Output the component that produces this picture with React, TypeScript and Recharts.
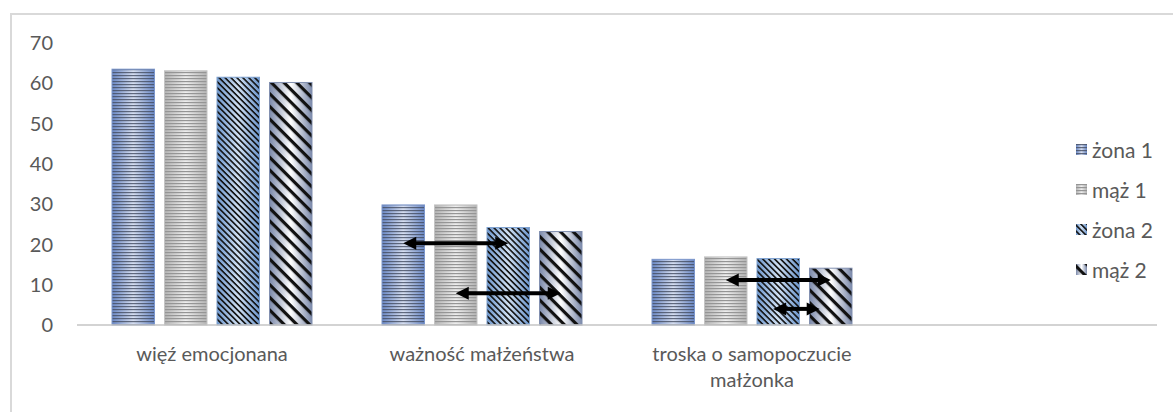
import React from 'react';
import { BarChart, Bar, XAxis, YAxis, Legend } from 'recharts';

const categories = ['więź emocjonana', 'ważność małżeństwa', 'troska o samopoczucie małżonka', ''];
const zona1 = [63.5, 29.8, 16.3, null];
const maz1 = [63.1, 29.8, 16.9, null];
const zona2 = [61.5, 24.2, 16.5, null];
const maz2 = [60.2, 23.2, 14.1, null];
const yTicks = [0, 10, 20, 30, 40, 50, 60, 70];

const seriesKeys = ['zona1', 'maz1', 'zona2', 'maz2'];
const seriesNames = ['żona 1', 'mąż 1', 'żona 2', 'mąż 2'];

// arrows: category index, from series index, to series index, value level, fractional position inside bars
const arrowCats = [1, 1, 2, 2];
const arrowFrom = [0, 1, 1, 2];
const arrowTo = [2, 3, 3, 3];
const arrowValue = [20.3, 7.9, 11.2, 4.0];
const arrowFromFrac = [0.5, 0.5, 0.5, 0.38];
const arrowToFrac = [0.5, 0.5, 0.5, 0.24];

const data = categories.map((c, i) => ({
  name: c,
  zona1: zona1[i],
  maz1: maz1[i],
  zona2: zona2[i],
  maz2: maz2[i],
}));

const BAR_SIZE = 42.5;
const BAR_GAP = 10;
const TEXT = '#595959';
const FONT = 'Lato, "Open Sans", sans-serif';
const WRAP_CHARS = 22;

const wrapLabel = (s: string) => {
  const words = s.split(' ');
  const lines: string[] = [];
  let cur = '';
  words.forEach((w) => {
    const next = cur ? cur + ' ' + w : w;
    if (next.length > WRAP_CHARS && cur) {
      lines.push(cur);
      cur = w;
    } else cur = next;
  });
  if (cur) lines.push(cur);
  return lines;
};

const Defs = () => (
  <svg width={0} height={0} style={{ position: 'absolute' }}>
    <defs>
      <linearGradient id="g0" x1="0" x2="1" y1="0" y2="0">
        <stop offset="0" stopColor="#6a88c6" />
        <stop offset="0.5" stopColor="#d6def0" />
        <stop offset="1" stopColor="#6a88c6" />
      </linearGradient>
      <linearGradient id="g1" x1="0" x2="1" y1="0" y2="0">
        <stop offset="0" stopColor="#b4b4b4" />
        <stop offset="0.5" stopColor="#eeeeee" />
        <stop offset="1" stopColor="#b4b4b4" />
      </linearGradient>
      <linearGradient id="g2" x1="0" x2="1" y1="0" y2="0">
        <stop offset="0" stopColor="#6d96cc" />
        <stop offset="0.5" stopColor="#d0e0f2" />
        <stop offset="1" stopColor="#6d96cc" />
      </linearGradient>
      <linearGradient id="g3" x1="0" x2="1" y1="0" y2="0">
        <stop offset="0" stopColor="#7b89aa" />
        <stop offset="0.5" stopColor="#ffffff" />
        <stop offset="1" stopColor="#7b89aa" />
      </linearGradient>
      <pattern id="p0" width={4} height={3} patternUnits="userSpaceOnUse">
        <rect x={0} y={0} width={4} height={1.2} fill="#444c60" fillOpacity={0.8} />
      </pattern>
      <pattern id="p1" width={4} height={3} patternUnits="userSpaceOnUse">
        <rect x={0} y={0} width={4} height={1.2} fill="#959595" />
      </pattern>
      <pattern id="p2" width={4} height={4.2} patternUnits="userSpaceOnUse" patternTransform="rotate(45)">
        <rect x={0} y={0} width={4} height={1.6} fill="#111111" />
      </pattern>
      <pattern id="p3" width={4} height={9} patternUnits="userSpaceOnUse" patternTransform="rotate(45)">
        <rect x={0} y={0} width={4} height={3.2} fill="#111111" />
      </pattern>
    </defs>
  </svg>
);

const ArrowMark = ({ x1, x2, y }: { x1: number; x2: number; y: number }) => {
  const hl = 13;
  const hw = 6.5;
  return (
    <g>
      <line x1={x1 + hl - 1} x2={x2 - hl + 1} y1={y} y2={y} stroke="#000" strokeWidth={4} />
      <polygon points={`${x1},${y} ${x1 + hl},${y - hw} ${x1 + hl},${y + hw}`} fill="#000" />
      <polygon points={`${x2},${y} ${x2 - hl},${y - hw} ${x2 - hl},${y + hw}`} fill="#000" />
    </g>
  );
};

const makeShape = (si: number) => (props: any) => {
  const { x, y, width, height, index, payload } = props;
  if (!height || height <= 0 || width == null) return <g />;
  const arrowsHere: React.ReactNode[] = [];
  if (si === 3) {
    const val = payload[seriesKeys[3]];
    const ppu = height / val;
    const base = y + height;
    const barX = (k: number) => x - (3 - k) * (width + BAR_GAP);
    arrowCats.forEach((c, ai) => {
      if (c !== index) return;
      const x1 = barX(arrowFrom[ai]) + width * arrowFromFrac[ai];
      const x2 = barX(arrowTo[ai]) + width * arrowToFrac[ai];
      arrowsHere.push(<ArrowMark key={ai} x1={x1} x2={x2} y={base - arrowValue[ai] * ppu} />);
    });
  }
  const edge = ['#7b96cc', '#c4c4c4', '#7fa2d0', '#8290b0'][si];
  return (
    <g>
      <rect x={x} y={y} width={width} height={height} fill={`url(#g${si})`} />
      <rect x={x} y={y} width={width} height={height} fill={`url(#p${si})`} stroke={edge} strokeWidth={1} />
      {arrowsHere}
    </g>
  );
};

const shapes = seriesKeys.map((_, i) => makeShape(i));

const XTick = (props: any) => {
  const { x, y, payload } = props;
  if (!payload.value) return <g />;
  const lines = wrapLabel(String(payload.value));
  return (
    <text x={x} y={y + 36} textAnchor="middle" fill={TEXT} fontSize={20} fontFamily={FONT}>
      {lines.map((l, i) => (
        <tspan key={i} x={x} dy={i === 0 ? 0 : 26}>
          {l}
        </tspan>
      ))}
    </text>
  );
};

const LegendContent = () => (
  <div style={{ fontFamily: FONT, fontSize: 21, color: TEXT, lineHeight: 1 }}>
    {seriesNames.map((n, i) => (
      <div key={n} style={{ height: 40, display: 'flex', alignItems: 'center' }}>
        <svg width={11} height={11} style={{ marginRight: 5 }}>
          <rect x={0} y={0} width={11} height={11} fill={`url(#g${i})`} />
          <rect x={0} y={0} width={11} height={11} fill={`url(#p${i})`} />
        </svg>
        <span>{n}</span>
      </div>
    ))}
  </div>
);

export default function App() {
  return (
    <div style={{ position: 'absolute', left: 0, top: 0, width: 1173, height: 412, background: '#fff', overflow: 'hidden' }}>
      <Defs />
      <div
        style={{
          position: 'absolute',
          left: 10,
          top: 13,
          width: 1200,
          height: 440,
          border: '2px solid #d9d9d9',
        }}
      />
      <div style={{ position: 'absolute', left: 0, top: 0 }}>
        <BarChart
          width={1173}
          height={412}
          data={data}
          margin={{ top: 43, right: 16, bottom: 0, left: 17 }}
          barSize={BAR_SIZE}
          barGap={BAR_GAP}
        >
          <XAxis
            dataKey="name"
            height={87}
            tickLine={false}
            tickSize={0}
            tickMargin={0}
            axisLine={{ stroke: '#c4c4c4', strokeWidth: 1.5 }}
            tick={<XTick />}
            interval={0}
          />
          <YAxis
            width={60}
            domain={[0, 70]}
            ticks={yTicks}
            axisLine={false}
            tickLine={false}
            tickSize={0}
            tickMargin={24}
            tick={{ fill: TEXT, fontSize: 20, fontFamily: FONT }}
          />
          <Legend
            layout="vertical"
            align="center"
            verticalAlign="middle"
            content={<LegendContent />}
            wrapperStyle={{ position: 'absolute', left: 1076, top: 129, width: 97 }}
          />
          {seriesKeys.map((k, i) => (
            <Bar key={k} dataKey={k} name={seriesNames[i]} shape={shapes[i]} isAnimationActive={false} />
          ))}
        </BarChart>
      </div>
    </div>
  );
}
